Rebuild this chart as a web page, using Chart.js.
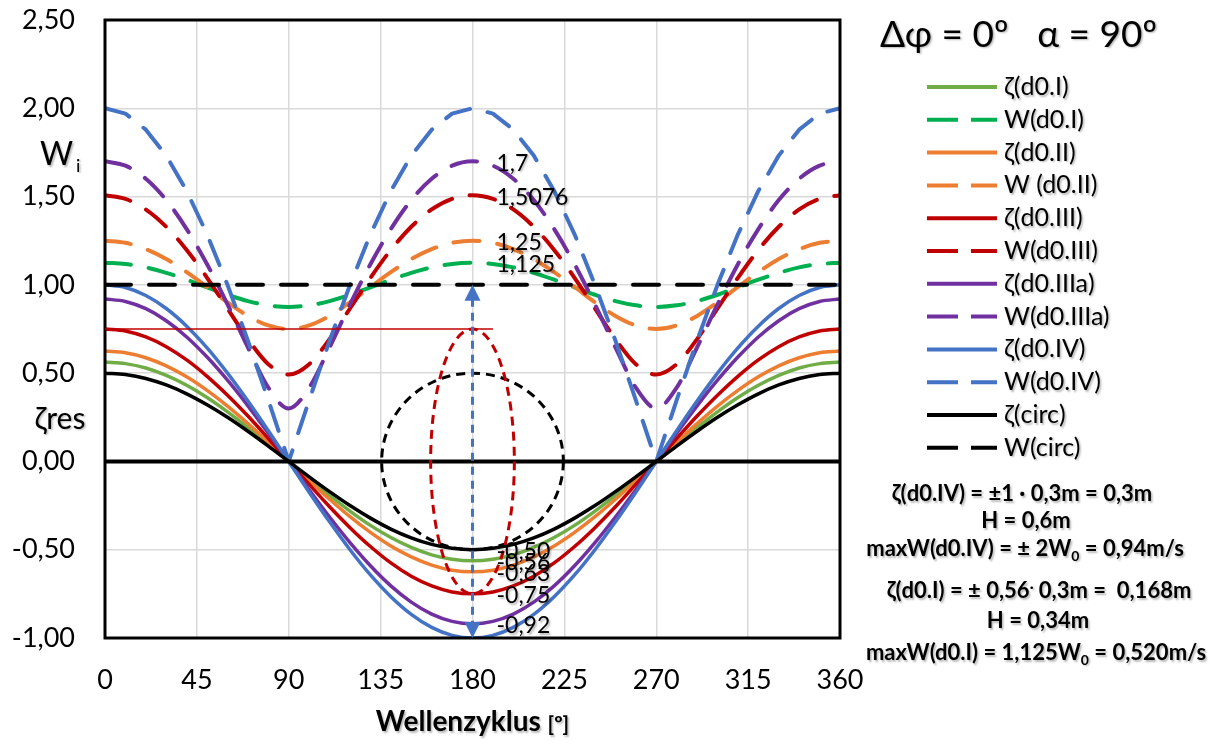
<!DOCTYPE html>
<html>
<head>
<meta charset="utf-8">
<script src="https://cdn.jsdelivr.net/npm/chart.js@4.4.1/dist/chart.umd.min.js"></script>
<style>
  html, body { margin: 0; padding: 0; background: #fff; }
</style>
</head>
<body>
<canvas id="myChart" width="1219" height="744"></canvas>
<script>
const fontFamily = "Lato, 'Noto Sans', 'DejaVu Sans', sans-serif";

// Wellenzyklus in Grad
const degrees = [0,10,20,30,40,50,60,70,80,90,100,110,120,130,140,150,160,170,180,
  190,200,210,220,230,240,250,260,270,280,290,300,310,320,330,340,350,360];

// ζ-Kurven (Auslenkung)
const zetaI = [0.563,0.554,0.529,0.487,0.431,0.362,0.281,0.192,0.098,0,
  -0.098,-0.192,-0.281,-0.362,-0.431,-0.487,-0.529,-0.554,-0.563,
  -0.554,-0.529,-0.487,-0.431,-0.362,-0.281,-0.192,-0.098,0,
  0.098,0.192,0.281,0.362,0.431,0.487,0.529,0.554,0.563];
const zetaII = [0.625,0.616,0.587,0.541,0.479,0.402,0.313,0.214,0.109,0,
  -0.109,-0.214,-0.313,-0.402,-0.479,-0.541,-0.587,-0.616,-0.625,
  -0.616,-0.587,-0.541,-0.479,-0.402,-0.313,-0.214,-0.109,0,
  0.109,0.214,0.313,0.402,0.479,0.541,0.587,0.616,0.625];
const zetaIII = [0.75,0.739,0.705,0.65,0.575,0.482,0.375,0.257,0.13,0,
  -0.13,-0.257,-0.375,-0.482,-0.575,-0.65,-0.705,-0.739,-0.75,
  -0.739,-0.705,-0.65,-0.575,-0.482,-0.375,-0.257,-0.13,0,
  0.13,0.257,0.375,0.482,0.575,0.65,0.705,0.739,0.75];
const zetaIIIa = [0.92,0.906,0.865,0.797,0.705,0.591,0.46,0.315,0.16,0,
  -0.16,-0.315,-0.46,-0.591,-0.705,-0.797,-0.865,-0.906,-0.92,
  -0.906,-0.865,-0.797,-0.705,-0.591,-0.46,-0.315,-0.16,0,
  0.16,0.315,0.46,0.591,0.705,0.797,0.865,0.906,0.92];
const zetaIV = [1,0.985,0.94,0.866,0.766,0.643,0.5,0.342,0.174,0,
  -0.174,-0.342,-0.5,-0.643,-0.766,-0.866,-0.94,-0.985,-1,
  -0.985,-0.94,-0.866,-0.766,-0.643,-0.5,-0.342,-0.174,0,
  0.174,0.342,0.5,0.643,0.766,0.866,0.94,0.985,1];
const zetaCirc = [0.5,0.492,0.47,0.433,0.383,0.321,0.25,0.171,0.087,0,
  -0.087,-0.171,-0.25,-0.321,-0.383,-0.433,-0.47,-0.492,-0.5,
  -0.492,-0.47,-0.433,-0.383,-0.321,-0.25,-0.171,-0.087,0,
  0.087,0.171,0.25,0.321,0.383,0.433,0.47,0.492,0.5];

// W-Kurven (Geschwindigkeit)
const wI = [1.125,1.118,1.099,1.068,1.029,0.986,0.944,0.908,0.884,0.875,
  0.884,0.908,0.944,0.986,1.029,1.068,1.099,1.118,1.125,
  1.118,1.099,1.068,1.029,0.986,0.944,0.908,0.884,0.875,
  0.884,0.908,0.944,0.986,1.029,1.068,1.099,1.118,1.125];
const wII = [1.25,1.238,1.202,1.146,1.072,0.988,0.901,0.824,0.77,0.75,
  0.77,0.824,0.901,0.988,1.072,1.146,1.202,1.238,1.25,
  1.238,1.202,1.146,1.072,0.988,0.901,0.824,0.77,0.75,
  0.77,0.824,0.901,0.988,1.072,1.146,1.202,1.238,1.25];
const wIII = [1.5076,1.487,1.427,1.329,1.198,1.04,0.866,0.693,0.551,0.492,
  0.551,0.693,0.866,1.04,1.198,1.329,1.427,1.487,1.5076,
  1.487,1.427,1.329,1.198,1.04,0.866,0.693,0.551,0.492,
  0.551,0.693,0.866,1.04,1.198,1.329,1.427,1.487,1.5076];
const wIIIa = [1.7,1.675,1.601,1.48,1.316,1.117,0.889,0.646,0.418,0.3,
  0.418,0.646,0.889,1.117,1.316,1.48,1.601,1.675,1.7,
  1.675,1.601,1.48,1.316,1.117,0.889,0.646,0.418,0.3,
  0.418,0.646,0.889,1.117,1.316,1.48,1.601,1.675,1.7];
const wIV = [2,1.97,1.879,1.732,1.532,1.286,1,0.684,0.347,0,
  0.347,0.684,1,1.286,1.532,1.732,1.879,1.97,2,
  1.97,1.879,1.732,1.532,1.286,1,0.684,0.347,0,
  0.347,0.684,1,1.286,1.532,1.732,1.879,1.97,2];
const wCirc = [1,1,1,1,1,1,1,1,1,1,1,1,1,1,1,1,1,1,1,
  1,1,1,1,1,1,1,1,1,1,1,1,1,1,1,1,1,1];

const seriesNames = ['ζ(d0.I)','W(d0.I)','ζ(d0.II)','W (d0.II)','ζ(d0.III)','W(d0.III)',
  'ζ(d0.IIIa)','W(d0.IIIa)','ζ(d0.IV)','W(d0.IV)','ζ(circ)','W(circ)'];
const seriesValues = [zetaI, wI, zetaII, wII, zetaIII, wIII, zetaIIIa, wIIIa, zetaIV, wIV, zetaCirc, wCirc];
const seriesColors = ['#70AD47','#00B050','#ED7D31','#ED7D31','#C00000','#C00000',
  '#7030A0','#7030A0','#4472C4','#4472C4','#000000','#000000'];
const seriesDashed = [false,true,false,true,false,true,false,true,false,true,false,true];
// Beschriftung am Punkt 180°: 2 = zwei Nachkommastellen, 0 = Wert wie er ist, null = keine
const peakLabelDigits = [2,0,2,0,2,0,2,0,null,null,2,null];

const xTicks = [0,45,90,135,180,225,270,315,360];
const yTicks = [-1,-0.5,0,0.5,1,1.5,2,2.5];

// Hilfslinien / Ellipsen um 180°
const markX = 180;
const redLineY = 0.75, redLineEnd = 190;
const redEllipse = { dx: 20.5, dy: 0.75 };
const blackCircle = { dx: 44.5, dy: 0.5 };
const arrowSpan = 1;

const deComma = (v) => String(v).replace('.', ',');

function textWithShadow(ctx, fn) {
  ctx.save();
  ctx.shadowColor = 'rgba(0,0,0,0.28)';
  ctx.shadowBlur = 2;
  ctx.shadowOffsetX = 1.5;
  ctx.shadowOffsetY = 1.5;
  fn();
  ctx.restore();
}

const extrasPlugin = {
  id: 'extras',
  afterDatasetsDraw(chart) {
    const {ctx, chartArea: a, scales: {x, y}} = chart;
    ctx.save();
    // Nulllinie + Rahmen
    ctx.strokeStyle = '#000';
    ctx.lineWidth = 4;
    ctx.beginPath();
    ctx.moveTo(a.left, y.getPixelForValue(0));
    ctx.lineTo(a.right, y.getPixelForValue(0));
    ctx.stroke();
    ctx.lineWidth = 3;
    ctx.strokeRect(a.left, a.top, a.right - a.left, a.bottom - a.top);

    const cx = x.getPixelForValue(markX);
    const cy = y.getPixelForValue(0);

    // dünne rote Linie bei 0,75
    ctx.strokeStyle = '#C00000';
    ctx.lineWidth = 1.3;
    ctx.beginPath();
    ctx.moveTo(x.getPixelForValue(0), y.getPixelForValue(redLineY));
    ctx.lineTo(x.getPixelForValue(redLineEnd), y.getPixelForValue(redLineY));
    ctx.stroke();

    // schwarzer Kreis
    ctx.setLineDash([9, 6]);
    ctx.lineWidth = 3;
    ctx.strokeStyle = '#000';
    ctx.beginPath();
    ctx.ellipse(cx, cy, x.getPixelForValue(markX + blackCircle.dx) - cx,
      cy - y.getPixelForValue(blackCircle.dy), 0, 0, Math.PI * 2);
    ctx.stroke();

    // rote Ellipse
    ctx.strokeStyle = '#C00000';
    ctx.beginPath();
    ctx.ellipse(cx, cy, x.getPixelForValue(markX + redEllipse.dx) - cx,
      cy - y.getPixelForValue(redEllipse.dy), 0, 0, Math.PI * 2);
    ctx.stroke();

    // blauer Doppelpfeil
    const yTop = y.getPixelForValue(arrowSpan);
    const yBot = y.getPixelForValue(-arrowSpan);
    ctx.strokeStyle = '#4472C4';
    ctx.fillStyle = '#4472C4';
    ctx.setLineDash([8, 6]);
    ctx.beginPath();
    ctx.moveTo(cx, yTop + 14);
    ctx.lineTo(cx, yBot - 14);
    ctx.stroke();
    ctx.setLineDash([]);
    [[yTop, 1], [yBot, -1]].forEach(([ty, dir]) => {
      ctx.beginPath();
      ctx.moveTo(cx, ty);
      ctx.lineTo(cx - 8, ty + dir * 16);
      ctx.lineTo(cx + 8, ty + dir * 16);
      ctx.closePath();
      ctx.fill();
    });

    // Werte bei 180°
    ctx.fillStyle = '#000';
    ctx.font = `23px ${fontFamily}`;
    ctx.textAlign = 'left';
    ctx.textBaseline = 'middle';
    const idx = degrees.indexOf(markX);
    seriesNames.forEach((n, i) => {
      const digits = peakLabelDigits[i];
      if (digits === null) return;
      const pt = chart.getDatasetMeta(i).data[idx];
      const v = seriesValues[i][idx];
      const txt = digits ? v.toFixed(digits).replace('.', ',') : deComma(v);
      textWithShadow(ctx, () => ctx.fillText(txt, pt.x + 24, pt.y + 2));
    });
    ctx.restore();
  },
  afterDraw(chart) {
    const {ctx} = chart;
    ctx.save();
    ctx.fillStyle = '#000';
    ctx.textBaseline = 'middle';

    // Achsenbeschriftungen links
    textWithShadow(ctx, () => {
      ctx.textAlign = 'left';
      ctx.font = `32px ${fontFamily}`;
      ctx.fillText('W', 40, 155);
      ctx.font = `18px ${fontFamily}`;
      ctx.fillText('i', 76, 166);
      ctx.textAlign = 'center';
      ctx.font = `30px ${fontFamily}`;
      ctx.fillText('ζres', 60, 419);
    });

    // x-Achsentitel
    textWithShadow(ctx, () => {
      ctx.textAlign = 'left';
      ctx.textBaseline = 'alphabetic';
      ctx.font = `bold 28px ${fontFamily}`;
      const t1 = 'Wellenzyklus ';
      const w1 = ctx.measureText(t1).width;
      ctx.font = `bold 21px ${fontFamily}`;
      const w2 = ctx.measureText('[º]').width;
      const sx = chart.chartArea.left + (chart.chartArea.right - chart.chartArea.left) / 2 - (w1 + w2) / 2;
      ctx.font = `bold 28px ${fontFamily}`;
      ctx.fillText(t1, sx, 731);
      ctx.font = `bold 21px ${fontFamily}`;
      ctx.fillText('[º]', sx + w1, 731);
    });

    // Legende
    ctx.textBaseline = 'middle';
    textWithShadow(ctx, () => {
      ctx.textAlign = 'left';
      ctx.font = `37px ${fontFamily}`;
      ctx.fillText('Δφ = 0º   α = 90º', 880, 35);
    });
    seriesNames.forEach((n, i) => {
      const ly = 87 + i * 32.8;
      ctx.strokeStyle = seriesColors[i];
      ctx.lineWidth = 4;
      ctx.setLineDash(seriesDashed[i] ? [31, 13] : []);
      ctx.beginPath();
      ctx.moveTo(927, ly);
      ctx.lineTo(997, ly);
      ctx.stroke();
      ctx.setLineDash([]);
      textWithShadow(ctx, () => {
        ctx.font = `25px ${fontFamily}`;
        ctx.textAlign = 'left';
        ctx.fillText(n, 1004, ly);
      });
    });

    // Anmerkungen
    const notes = [
      {y: 494, cx: 1022, parts: [['ζ(d0.IV) = ±1 · 0,3m = 0,3m']]},
      {y: 521, cx: 1026, parts: [['H = 0,6m']]},
      {y: 549, cx: 1025, parts: [['maxW(d0.IV) = ± 2W'], ['0', 'sub'], [' = 0,94m/s']]},
      {y: 591, cx: 1039, parts: [['ζ(d0.I) = ± 0,56'], ['·', 'sup'], [' 0,3m =  0,168m']]},
      {y: 621, cx: 1038, parts: [['H = 0,34m']]},
      {y: 653, cx: 1036, parts: [['maxW(d0.I) = 1,125W'], ['0', 'sub'], [' = 0,520m/s']]}
    ];
    const mainFont = `bold 22px ${fontFamily}`;
    const smallFont = `bold 14px ${fontFamily}`;
    textWithShadow(ctx, () => {
      ctx.textAlign = 'left';
      notes.forEach(line => {
        let total = 0;
        line.parts.forEach(([t, kind]) => {
          ctx.font = kind ? smallFont : mainFont;
          total += ctx.measureText(t).width;
        });
        let px = line.cx - total / 2;
        line.parts.forEach(([t, kind]) => {
          ctx.font = kind ? smallFont : mainFont;
          const dy = kind === 'sub' ? 7 : (kind === 'sup' ? -4 : 0);
          ctx.fillText(t, px, line.y + dy);
          px += ctx.measureText(t).width;
        });
      });
    });
    ctx.restore();
  }
};

const ctx = document.getElementById('myChart').getContext('2d');
const myChart = new Chart(ctx, {
  type: 'line',
  data: {
    datasets: seriesNames.map((name, i) => ({
      label: name,
      data: degrees.map((d, k) => ({x: d, y: seriesValues[i][k]})),
      borderColor: seriesColors[i],
      backgroundColor: seriesColors[i],
      borderWidth: seriesDashed[i] ? 4 : 3.5,
      borderDash: seriesDashed[i] ? [26, 18] : [],
      borderCapStyle: 'round',
      borderJoinStyle: 'round',
      pointRadius: 0,
      cubicInterpolationMode: name === 'W(d0.IV)' ? 'default' : 'monotone',
      tension: name === 'W(d0.IV)' ? 0 : 0.4,
      fill: false,
      order: seriesNames.length - i
    }))
  },
  options: {
    responsive: false,
    animation: false,
    layout: { padding: { left: 0, right: 379, top: 20, bottom: 0 } },
    plugins: {
      legend: { display: false },
      tooltip: { enabled: false }
    },
    scales: {
      x: {
        type: 'linear',
        min: xTicks[0],
        max: xTicks[xTicks.length - 1],
        afterBuildTicks: (s) => { s.ticks = xTicks.map(v => ({value: v})); },
        afterFit: (s) => { s.height = 106; s.paddingLeft = 0; s.paddingRight = 0; },
        ticks: {
          color: '#000',
          font: { family: fontFamily, size: 27 },
          padding: 26,
          maxRotation: 0
        },
        grid: { color: '#d9d9d9', lineWidth: 1.5, drawTicks: false },
        border: { display: false }
      },
      y: {
        min: yTicks[0],
        max: yTicks[yTicks.length - 1],
        afterBuildTicks: (s) => { s.ticks = yTicks.map(v => ({value: v})); },
        afterFit: (s) => { s.width = 105; s.paddingTop = 0; s.paddingBottom = 0; },
        ticks: {
          color: '#000',
          font: { family: fontFamily, size: 27 },
          padding: 30,
          callback: (v) => v.toFixed(2).replace('.', ',')
        },
        grid: { color: '#d9d9d9', lineWidth: 1.5, drawTicks: false },
        border: { display: false }
      }
    }
  },
  plugins: [extrasPlugin]
});
</script>
</body>
</html>
